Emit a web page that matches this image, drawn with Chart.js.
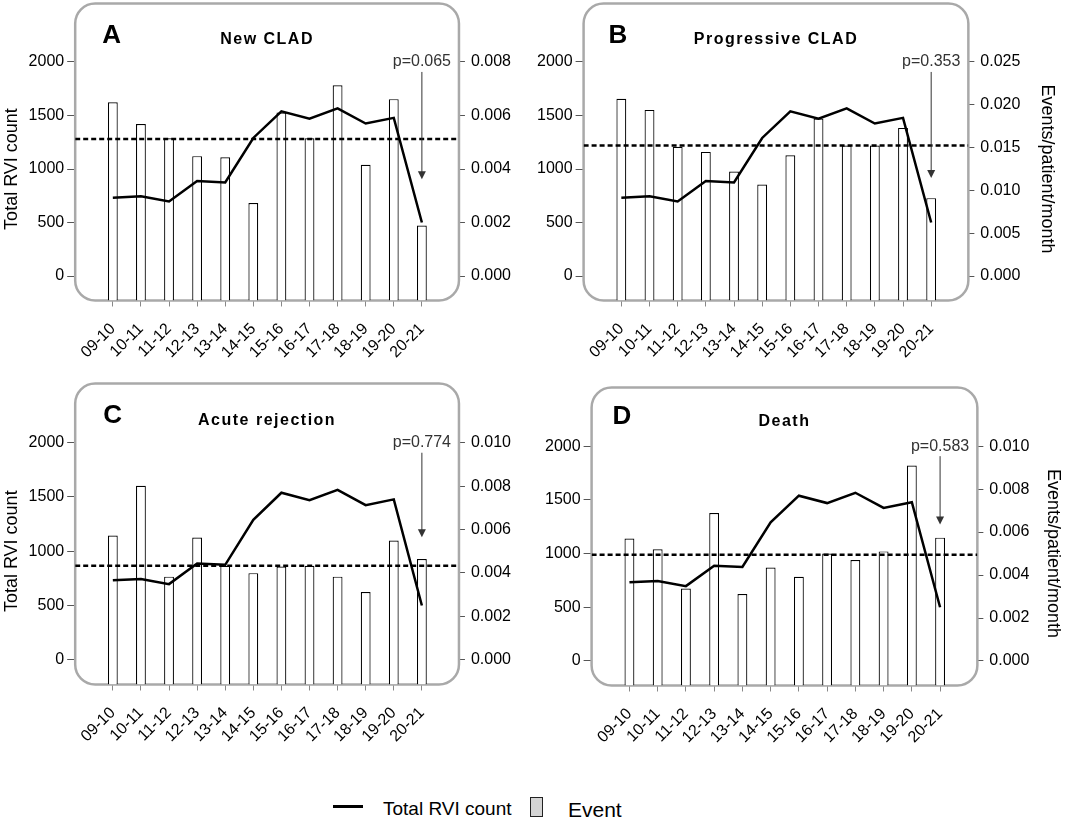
<!DOCTYPE html>
<html>
<head>
<meta charset="utf-8">
<script src="https://cdn.jsdelivr.net/npm/chart.js@4.4.1/dist/chart.umd.min.js"></script>
<style>
  body { margin: 0; background: #fff; }
  #wrap { position: relative; width: 1068px; height: 822px; overflow: hidden;
          font-family: "Liberation Sans", Arial, sans-serif; color: #000; }
  canvas { position: absolute; }
  .lg { position: absolute; white-space: nowrap; }
</style>
</head>
<body>
<div id="wrap">
  <canvas id="cA" width="520" height="387" style="left:-3px;top:-12px"></canvas>
  <canvas id="cB" width="532" height="387" style="left:534px;top:-12px"></canvas>
  <canvas id="cC" width="520" height="391" style="left:-3px;top:368px"></canvas>
  <canvas id="cD" width="527" height="388" style="left:542px;top:372px"></canvas>

  <div class="lg" style="left:333px;top:805px;width:30px;height:3px;background:#000"></div>
  <div class="lg" style="left:383px;top:799px;font-size:19px;line-height:19px">Total RVI count</div>
  <div class="lg" style="left:530px;top:797px;width:13px;height:20px;box-sizing:border-box;border:1.5px solid #222;background:#d4d4d4"></div>
  <div class="lg" style="left:568px;top:799px;font-size:21px;line-height:21px">Event</div>
</div>
<script>
// season labels
const categories = ['09-10','10-11','11-12','12-13','13-14','14-15','15-16','16-17','17-18','18-19','19-20','20-21'];

// total RVI count (left axis), same line in every panel
const rviCount = [732, 745, 697, 887, 875, 1290, 1539, 1470, 1566, 1425, 1478, 500];

// events/patient/month (right axis) per panel
const newClad   = [0.00649, 0.00568, 0.00515, 0.00448, 0.00444, 0.00273, 0.00611, 0.00515, 0.00713, 0.00416, 0.00661, 0.00189];
const progClad  = [0.0207, 0.0194, 0.0151, 0.0145, 0.0122, 0.0107, 0.0141, 0.0184, 0.01525, 0.01525, 0.0173, 0.0091];
const acuteRej  = [0.00572, 0.00802, 0.00383, 0.00563, 0.00433, 0.00399, 0.0043, 0.00433, 0.00383, 0.00312, 0.00549, 0.00464];
const death     = [0.0057, 0.0052, 0.00337, 0.00689, 0.00312, 0.00435, 0.00392, 0.005, 0.0047, 0.0051, 0.0091, 0.00574];

// mean event rate (dashed line), p values and where the arrows end (RVI units)
const meanRate  = [0.00512, 0.01525, 0.00433, 0.00494];
const pValues   = ['p=0.065', 'p=0.353', 'p=0.774', 'p=0.583'];
const arrowTip  = [904, 915, 1130, 1270];

// right axis ticks
const rightMax  = [0.008, 0.025, 0.010, 0.010];
const rightStep = [0.002, 0.005, 0.002, 0.002];
const leftTicks = [0, 500, 1000, 1500, 2000];

const letters = ['A', 'B', 'C', 'D'];
const titles  = ['New CLAD', 'Progressive CLAD', 'Acute rejection', 'Death'];
const events  = [newClad, progClad, acuteRej, death];

// per panel layout bits (not data)
const layout = [
  { id: 'cA', side: 'left',  sideDx: -63, padL: 28.6, padR: 0,    letterDx: 27, letterDy: 39, titleDy: 40 },
  { id: 'cB', side: 'right', sideDx: 79,  padL: 0,    padR: 39.6, letterDx: 25, letterDy: 39, titleDy: 40 },
  { id: 'cC', side: 'left',  sideDx: -63, padL: 28.6, padR: 0,    letterDx: 28, letterDy: 39, titleDy: 41 },
  { id: 'cD', side: 'right', sideDx: 76,  padL: 0,    padR: 33.6, letterDx: 21, letterDy: 36, titleDy: 38 }
];

const FONT = '"Liberation Sans", Arial, sans-serif';
Chart.defaults.font.family = FONT;
Chart.defaults.color = '#000';

const yMin = -228, yMax = 2545;
const xMin = -1.34, xMax = 12.32;

function makePanel(k) {
  const L = layout[k];
  const rMax = rightMax[k];
  const r1Min = yMin / 2000 * rMax, r1Max = yMax / 2000 * rMax;

  const deco = {
    id: 'deco',
    beforeDatasetsDraw(chart) {
      const a = chart.chartArea, ctx = chart.ctx;
      ctx.save();
      ctx.strokeStyle = '#a9a9a9';
      ctx.lineWidth = 2.5;
      ctx.beginPath();
      ctx.roundRect(a.left, a.top, a.right - a.left, a.bottom - a.top, 20);
      ctx.stroke();
      ctx.restore();
    },
    afterDatasetsDraw(chart) {
      const ctx = chart.ctx;
      const x = chart.scales.x.getPixelForValue(categories.length - 1);
      const yText = chart.scales.y.getPixelForValue(2000);
      const yEnd = chart.scales.y.getPixelForValue(arrowTip[k]);
      ctx.save();
      ctx.fillStyle = '#333';
      ctx.font = '16px ' + FONT;
      ctx.textAlign = 'center';
      ctx.textBaseline = 'middle';
      ctx.fillText(pValues[k], x, yText);
      ctx.strokeStyle = '#333';
      ctx.lineWidth = 1;
      ctx.beginPath();
      ctx.moveTo(x, yText + 10);
      ctx.lineTo(x, yEnd - 6);
      ctx.stroke();
      ctx.beginPath();
      ctx.moveTo(x - 4, yEnd - 8);
      ctx.lineTo(x + 4, yEnd - 8);
      ctx.lineTo(x, yEnd);
      ctx.closePath();
      ctx.fill();
      ctx.restore();
    },
    afterDraw(chart) {
      const a = chart.chartArea, ctx = chart.ctx;
      ctx.save();
      ctx.fillStyle = '#000';
      ctx.textBaseline = 'alphabetic';
      ctx.font = 'bold 26px ' + FONT;
      ctx.textAlign = 'left';
      ctx.fillText(letters[k], a.left + L.letterDx, a.top + L.letterDy);
      ctx.font = 'bold 16px ' + FONT;
      ctx.letterSpacing = '1.5px';
      ctx.textAlign = 'center';
      ctx.fillText(titles[k], (a.left + a.right) / 2, a.top + L.titleDy);
      ctx.restore();

      // axis title, centred on the 0-2000 range like the original
      const yMid = chart.scales.y.getPixelForValue(1000);
      ctx.save();
      ctx.fillStyle = '#000';
      ctx.font = '18px ' + FONT;
      ctx.textAlign = 'center';
      ctx.textBaseline = 'middle';
      if (L.side === 'left') {
        ctx.translate(a.left + L.sideDx, yMid);
        ctx.rotate(-Math.PI / 2);
        ctx.fillText('Total RVI count', 0, 0);
      } else {
        ctx.translate(a.right + L.sideDx, yMid);
        ctx.rotate(Math.PI / 2);
        ctx.fillText('Events/patient/month', 0, 0);
      }
      ctx.restore();
    }
  };

  new Chart(document.getElementById(L.id), {
    data: {
      datasets: [
        {
          type: 'line',
          label: 'Total RVI count',
          data: rviCount.map((v, i) => ({ x: i, y: v })),
          yAxisID: 'y',
          borderColor: '#000',
          borderWidth: 2.5,
          pointRadius: 0,
          tension: 0,
          order: 0
        },
        {
          type: 'line',
          label: 'mean',
          data: [{ x: xMin, y: meanRate[k] }, { x: xMax, y: meanRate[k] }],
          yAxisID: 'y1',
          borderColor: '#000',
          borderWidth: 2.5,
          borderDash: [5, 3],
          pointRadius: 0,
          order: 1
        },
        {
          type: 'bar',
          label: 'Event',
          data: events[k].map((v, i) => ({ x: i, y: v })),
          yAxisID: 'y1',
          base: r1Min,
          backgroundColor: '#fff',
          borderColor: '#000',
          borderWidth: 1.2,
          barPercentage: 0.35,
          categoryPercentage: 1,
          order: 2
        }
      ]
    },
    options: {
      responsive: false,
      animation: false,
      devicePixelRatio: 1,
      layout: { padding: { left: L.padL, right: L.padR, top: 0, bottom: 0 } },
      plugins: { legend: { display: false }, tooltip: { enabled: false } },
      scales: {
        x: {
          type: 'linear',
          min: xMin,
          max: xMax,
          offset: false,
          afterBuildTicks: (axis) => { axis.ticks = categories.map((c, i) => ({ value: i })); },
          ticks: {
            callback: (v) => categories[v],
            autoSkip: false,
            minRotation: 45,
            maxRotation: 45,
            padding: 13,
            font: { size: 16 }
          },
          grid: { offset: false, drawOnChartArea: false, tickLength: 6, color: '#888' },
          border: { display: false }
        },
        y: {
          type: 'linear',
          position: 'left',
          min: yMin,
          max: yMax,
          afterBuildTicks: (axis) => { axis.ticks = leftTicks.map(v => ({ value: v })); },
          ticks: { callback: (v) => String(v), padding: 3, font: { size: 16 } },
          grid: { drawOnChartArea: false, tickLength: 8, color: '#555' },
          border: { display: false }
        },
        y1: {
          type: 'linear',
          position: 'right',
          min: r1Min,
          max: r1Max,
          afterBuildTicks: (axis) => {
            const t = [];
            for (let v = 0; v <= rMax + 1e-9; v += rightStep[k]) t.push({ value: v });
            axis.ticks = t;
          },
          ticks: { callback: (v) => v.toFixed(3), padding: 6, font: { size: 16 } },
          grid: { drawOnChartArea: false, tickLength: 6, color: '#555' },
          border: { display: false }
        }
      }
    },
    plugins: [deco]
  });
}

for (let k = 0; k < 4; k++) makePanel(k);
</script>
</body>
</html>
